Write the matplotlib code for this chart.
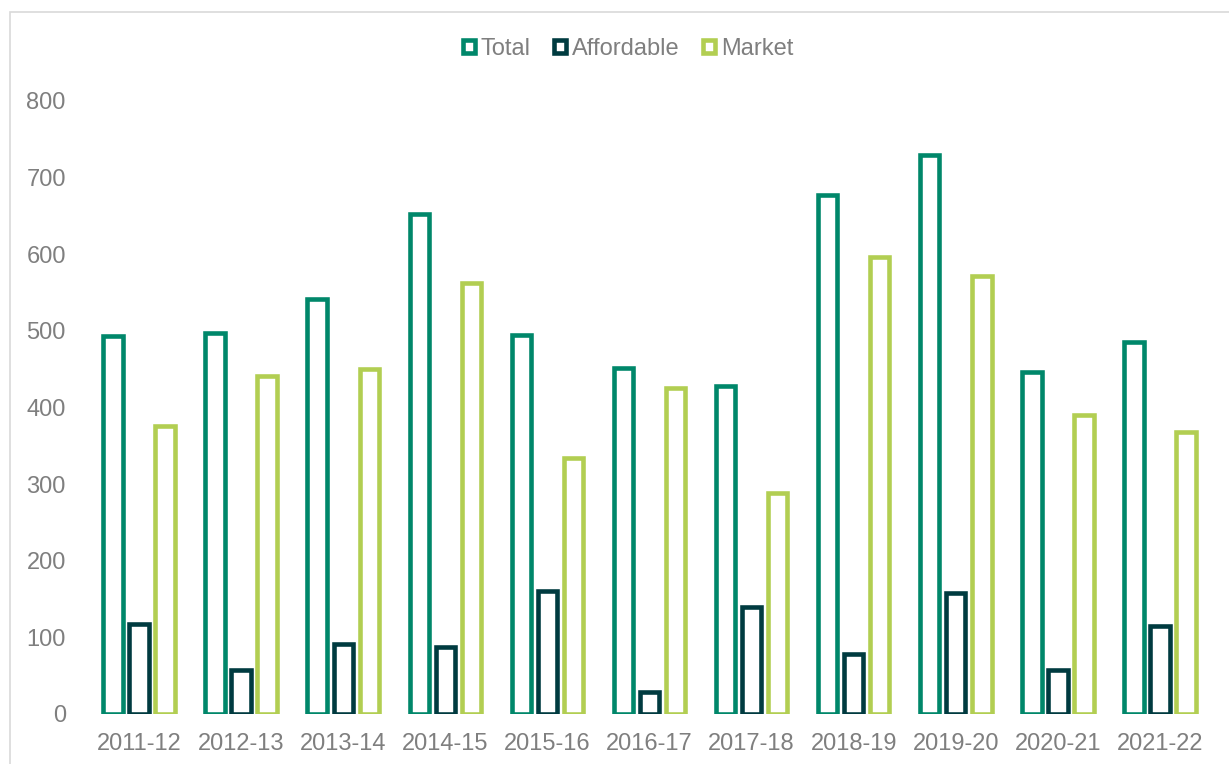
import matplotlib
matplotlib.use("Agg")
import matplotlib.pyplot as plt
import numpy as np
from matplotlib.patches import Patch, Rectangle

years = ["2011-12", "2012-13", "2013-14", "2014-15", "2015-16", "2016-17",
         "2017-18", "2018-19", "2019-20", "2020-21", "2021-22"]
total = [493, 497, 541, 652, 495, 452, 428, 677, 729, 446, 485]
affordable = [117, 57, 91, 88, 160, 29, 140, 78, 158, 57, 115]
market = [376, 441, 450, 562, 334, 425, 288, 597, 571, 390, 368]

series_names = ["Total", "Affordable", "Market"]
colors = ["#00876A", "#003B40", "#B2CE52"]
text_grey = "#7F7F7F"

plt.rcParams["font.family"] = ["Liberation Sans", "DejaVu Sans"]

fig = plt.figure(figsize=(12.29, 7.64), dpi=100)
ax = fig.add_axes([88 / 1229, 1 - 714 / 764, (1211 - 88) / 1229, (714 - 101) / 764])

# light frame around the chart area
fig.patches.append(Rectangle((10 / 1229, -0.05), 1.1, 1 - 12 / 764 + 0.05,
                             transform=fig.transFigure, fill=False,
                             edgecolor="#D9D9D9", linewidth=1.2))

x = np.arange(len(years))
offset = 0.255
width = 0.19
for i, (vals, col) in enumerate(zip([total, affordable, market], colors)):
    ax.bar(x + (i - 1) * offset, vals, width=width, facecolor="white",
           edgecolor=col, linewidth=3.3, zorder=3)

ax.set_xlim(-0.5, len(years) - 0.5)
ax.set_ylim(0, 800)
ax.set_yticks(range(0, 801, 100))
ax.set_xticks(x)
ax.set_xticklabels(years)
for s in ax.spines.values():
    s.set_visible(False)
ax.tick_params(axis="both", length=0, labelsize=17, colors=text_grey)
ax.tick_params(axis="y", pad=16)
ax.tick_params(axis="x", pad=14)

handles = [Patch(facecolor="white", edgecolor=c, linewidth=3.3) for c in colors]
fig.legend(handles, series_names, loc="center", bbox_to_anchor=(0.511, 1 - 49 / 764),
           ncol=3, frameon=False, fontsize=17, labelcolor=text_grey,
           handlelength=0.5, handleheight=0.5, handletextpad=0.25,
           columnspacing=1.0, borderpad=0)

fig.savefig("out.png", dpi=100)
